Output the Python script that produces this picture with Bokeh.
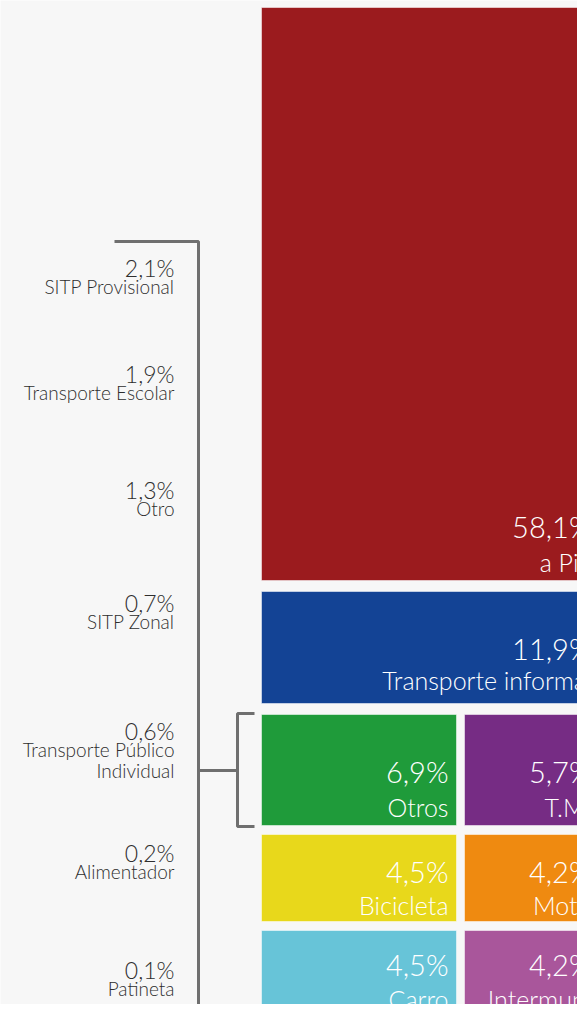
from bokeh.plotting import figure
from bokeh.models import ColumnDataSource, Range1d
from bokeh.embed import file_html
from bokeh.resources import INLINE
from bokeh.core.properties import value

# ---------------- data ----------------
categories = ["a Pie", "Transporte informal", "Otros", "T.M.",
              "Bicicleta", "Moto", "Carro", "Intermun."]
shares = [58.1, 11.9, 6.9, 5.7, 4.5, 4.2, 4.5, 4.2]

otros_categories = ["SITP Provisional", "Transporte Escolar", "Otro", "SITP Zonal",
                    "Transporte Público\nIndividual", "Alimentador", "Patineta"]
otros_shares = [2.1, 1.9, 1.3, 0.7, 0.6, 0.2, 0.1]

# ---------------- styles / layout ----------------
box_colors = ["#9b1b1e", "#134395", "#1f9b3a", "#762c84",
              "#e8d81b", "#ef8a10", "#67c4d8", "#a9569b"]
# treemap layout (chart units = px of the reference)
col_edges = [(261, 456), (464, 599)]      # left / right columns
full_span = (261, 660)
row_edges = [(7, 580), (591, 703), (714, 825), (834, 921), (930, 1030)]
# box -> (row index, column index or None for full width)
box_cells = [(0, None), (1, None), (2, 0), (2, 1), (3, 0), (3, 1), (4, 0), (4, 1)]
pct_offsets = [528, 66, 66, 66, 46, 46, 43, 43]     # % baseline below box top
lab_offsets = [563, 97, 101, 101, 79, 79, 77, 77]   # label baseline below box top
left_baselines = [276, 382, 498, 611, 739, 861, 978]
left_text_x = 174
bracket_x = 198
TEXT_DY = -9   # correction of the rendered baseline

def fmt(v):
    return f"{v:.1f}".replace(".", ",") + "%"

FONT = "Lato Light"

p = figure(width=577, height=1004, output_backend="svg", toolbar_location=None,
           x_range=Range1d(0, 577), y_range=Range1d(1004, 0),
           min_border=0, background_fill_color="#f7f7f7",
           border_fill_color="#f7f7f7")
p.axis.visible = False
p.grid.visible = False
p.outline_line_color = None

# boxes
l, r, t, b, tx_pct, ty_pct, ty_lab = [], [], [], [], [], [], []
for i, (ri, ci) in enumerate(box_cells):
    x0, x1 = full_span if ci is None else col_edges[ci]
    y0, y1 = row_edges[ri]
    l.append(x0); r.append(x1); t.append(y0); b.append(y1)
    tx_pct.append(x1 - 8 if ci is not None else col_edges[1][1] - 8)
    ty_pct.append(y0 + pct_offsets[i])
    ty_lab.append(y0 + lab_offsets[i])

src = ColumnDataSource(dict(left=l, right=r, top=t, bottom=b, color=box_colors,
                            tx=tx_pct, typ=ty_pct, tyl=ty_lab,
                            pct=[fmt(v) for v in shares], lab=categories))
p.quad(left="left", right="right", top="top", bottom="bottom", source=src,
       fill_color="color", line_color="#ffffff", line_alpha=0.5, line_width=1)
p.text(x="tx", y="typ", text="pct", source=src, text_color="white",
       text_align="right", text_baseline="alphabetic", y_offset=TEXT_DY,
       text_font=value(FONT), text_font_size="29px")
p.text(x="tx", y="tyl", text="lab", source=src, text_color="white",
       text_align="right", text_baseline="alphabetic", y_offset=TEXT_DY,
       text_font=value(FONT), text_font_size="25px")

# left breakdown labels
lx, ly, lt = [], [], []
px, py, pt = [], [], []
for name, v, yb in zip(otros_categories, otros_shares, left_baselines):
    px.append(left_text_x); py.append(yb); pt.append(fmt(v))
    for k, line in enumerate(name.split("\n")):
        lx.append(left_text_x); ly.append(yb + 19 + 21 * k); lt.append(line)
p.text(x=px, y=py, text=pt, text_color="#2e2e2e", text_align="right",
       text_baseline="alphabetic", y_offset=TEXT_DY,
       text_font=value(FONT), text_font_size="23px")
p.text(x=lx, y=ly, text=lt, text_color="#2e2e2e", text_align="right",
       text_baseline="alphabetic", y_offset=TEXT_DY,
       text_font=value(FONT), text_font_size="19px")

# bracket
oy0, oy1 = row_edges[2]
mid = (oy0 + oy1) / 2 + 0.5
top_y = 241
line_kw = dict(line_color="#6f6f6f", line_width=3)
p.line([114, bracket_x, bracket_x], [top_y, top_y, 1030], **line_kw)
p.line([bracket_x, 237], [mid, mid], **line_kw)
p.line([254, 237, 237, 254], [oy0 - 1, oy0 - 1, oy1 + 1, oy1 + 1], **line_kw)

open("out.html", "w").write(file_html(p, INLINE))
